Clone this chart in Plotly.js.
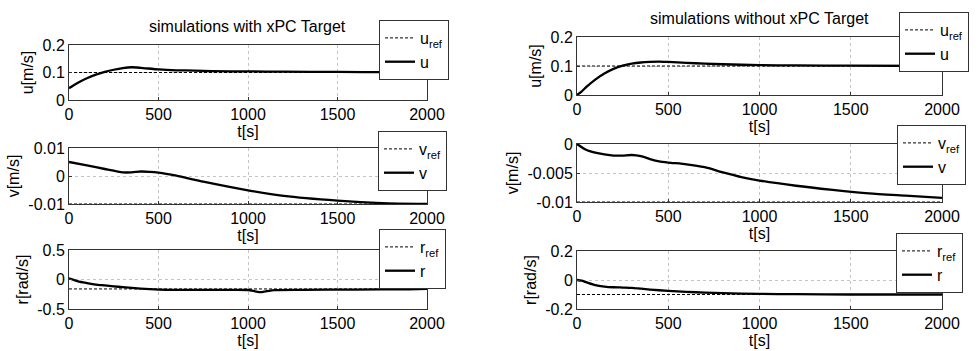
<!DOCTYPE html>
<html>
<head>
<meta charset="utf-8">
<script src="https://cdn.plot.ly/plotly-3.0.1.min.js"></script>
<style>html,body{margin:0;padding:0;background:#fff;}#chart{width:980px;height:351px;}</style>
</head>
<body>
<div id="chart"></div>
<script>
// ---------- data ----------
const titleLeft = "simulations with xPC Target";
const titleRight = "simulations without xPC Target";
const tRange = [0, 2000];

// left column (with xPC Target)
const tL_u = [0,50,100,150,200,250,300,350,400,500,600,700,800,1000,1200,1500,1800,2000];
const uL   = [0.043,0.063,0.079,0.092,0.102,0.110,0.116,0.119,0.117,0.111,0.108,0.107,0.105,0.104,0.103,0.102,0.101,0.101];
const uRefL = [0.1, 0.1];

const tL_v = [0,100,200,300,350,400,450,500,600,750,1000,1200,1500,1750,2000];
const vL   = [0.005,0.0038,0.0025,0.0013,0.0013,0.0016,0.0015,0.0012,0.0001,-0.002,-0.0051,-0.0071,-0.0088,-0.0097,-0.0100];
const vRefL = [-0.01, -0.01];

const tL_r = [0,50,100,150,200,250,300,400,500,700,900,1000,1040,1070,1100,1150,1300,1600,1900,2000];
const rL   = [0.02,-0.03,-0.06,-0.085,-0.10,-0.115,-0.13,-0.155,-0.17,-0.175,-0.175,-0.178,-0.2,-0.215,-0.2,-0.18,-0.175,-0.17,-0.165,-0.16];
const rRefL = [-0.16, -0.16];

// right column (without xPC Target)
const tR_u = [0,25,50,100,150,200,250,300,350,400,450,500,600,700,800,1000,1200,1500,2000];
const uR   = [0,0.012,0.027,0.053,0.074,0.090,0.101,0.108,0.112,0.114,0.115,0.114,0.111,0.108,0.106,0.103,0.102,0.101,0.100];
const uRefR = [0.1, 0.1];

const tR_v = [0,50,100,150,200,250,300,350,400,450,500,600,700,800,900,1000,1200,1400,1600,1800,2000];
const vR   = [0,-0.0010,-0.0015,-0.0018,-0.0020,-0.0020,-0.0019,-0.0021,-0.0026,-0.0030,-0.0032,-0.0035,-0.0040,-0.0049,-0.0057,-0.0063,-0.0072,-0.0079,-0.0085,-0.0089,-0.0093];
const vRefR = [-0.01, -0.01];

const tR_r = [0,25,50,100,150,200,250,300,350,400,500,600,700,800,1000,1200,1500,2000];
const rR   = [0,-0.005,-0.015,-0.035,-0.045,-0.050,-0.052,-0.054,-0.060,-0.066,-0.075,-0.082,-0.087,-0.091,-0.096,-0.098,-0.100,-0.100];
const rRefR = [-0.1, -0.1];

// tick labels
const xTicks = [0,500,1000,1500,2000];
const xTickText = ["0","500","1000","1500","2000"];
const uTicks = [0,0.1,0.2];         const uTickText = ["0","0.1","0.2"];
const vLTicks = [-0.01,0,0.01];     const vLTickText = ["-0.01","0","0.01"];
const vRTicks = [-0.01,-0.005,0];   const vRTickText = ["-0.01","-0.005","0"];
const rLTicks = [-0.5,0,0.5];       const rLTickText = ["-0.5","0","0.5"];
const rRTicks = [-0.2,0,0.2];       const rRTickText = ["-0.2","0","0.2"];

// ---------- build ----------
const FONT = "'Liberation Sans', Arial, Helvetica, sans-serif";
const traces = [];
function addPair(n, t, y, yref, sym, legendId){
  const ax = n === 1 ? "" : String(n);
  traces.push({x: tRange, y: yref, xaxis: "x"+ax, yaxis: "y"+ax, mode: "lines",
    name: sym + "<sub>ref</sub>", legend: legendId,
    line: {color: "#000", width: 1, dash: "3px,2px"}});
  traces.push({x: t, y: y, xaxis: "x"+ax, yaxis: "y"+ax, mode: "lines",
    name: sym, legend: legendId, line: {color: "#000", width: 2.3, shape: "spline", smoothing: 0.6}});
}
addPair(1, tL_u, uL, uRefL, "u", "legend");
addPair(2, tR_u, uR, uRefR, "u", "legend2");
addPair(3, tL_v, vL, vRefL, "v", "legend3");
addPair(4, tR_v, vR, vRefR, "v", "legend4");
addPair(5, tL_r, rL, rRefL, "r", "legend5");
addPair(6, tR_r, rR, rRefR, "r", "legend6");

const W = 980, H = 351;
function xd(a,b){ return [a/W, b/W]; }
function yd(top,bot){ return [(H-bot)/H, (H-top)/H]; }

function xAxis(dom, anchor){
  return {domain: dom, anchor: anchor, range: tRange, tickvals: xTicks, ticktext: xTickText,
    showline: true, mirror: true, linecolor: "#333", linewidth: 1,
    ticks: "inside", ticklen: 3, tickcolor: "#333",
    showgrid: true, gridcolor: "#c4c4c4", griddash: "dot", gridwidth: 1, zeroline: false,
    tickfont: {family: FONT, size: 16, color: "#000"},
    title: {text: "t[s]", font: {family: FONT, size: 16, color: "#000"}, standoff: 2}};
}
function yAxis(dom, anchor, range, tv, tt, label){
  return {domain: dom, anchor: anchor, range: range, tickvals: tv, ticktext: tt,
    showline: true, mirror: true, linecolor: "#333", linewidth: 1,
    ticks: "inside", ticklen: 3, tickcolor: "#333",
    showgrid: true, gridcolor: "#c4c4c4", griddash: "dot", gridwidth: 1, zeroline: false,
    tickfont: {family: FONT, size: 16, color: "#000"},
    title: {text: label, font: {family: FONT, size: 16, color: "#000"}, standoff: 4}};
}
function legendAt(x, y){
  return {x: x/W, y: (H-y)/H, xref: "paper", yref: "paper", xanchor: "left", yanchor: "top",
    bgcolor: "#fff", bordercolor: "#333", borderwidth: 1,
    font: {family: FONT, size: 16, color: "#000"}, tracegroupgap: 0, itemwidth: 30};
}

const LX = xd(69, 427), RX = xd(577, 942);
const layout = {
  width: W, height: H, margin: {l: 0, r: 0, t: 0, b: 0},
  paper_bgcolor: "#fff", plot_bgcolor: "#fff", showlegend: true,
  font: {family: FONT, color: "#000"},
  xaxis:  xAxis(LX, "y"),  yaxis:  yAxis(yd(45,100), "x",  [0,0.2], uTicks, uTickText, "u[m/s]"),
  xaxis2: xAxis(RX, "y2"), yaxis2: yAxis(yd(37,95), "x2", [0,0.2], uTicks, uTickText, "u[m/s]"),
  xaxis3: xAxis(LX, "y3"), yaxis3: yAxis(yd(148,204), "x3", [-0.01,0.01], vLTicks, vLTickText, "v[m/s]"),
  xaxis4: xAxis(RX, "y4"), yaxis4: yAxis(yd(144,202), "x4", [-0.01,0], vRTicks, vRTickText, "v[m/s]"),
  xaxis5: xAxis(LX, "y5"), yaxis5: yAxis(yd(250,309), "x5", [-0.5,0.5], rLTicks, rLTickText, "r[rad/s]"),
  xaxis6: xAxis(RX, "y6"), yaxis6: yAxis(yd(251,309), "x6", [-0.2,0.2], rRTicks, rRTickText, "r[rad/s]"),
  legend:  legendAt(379, 20),
  legend2: legendAt(899, 12),
  legend3: legendAt(378, 131),
  legend4: legendAt(897, 125),
  legend5: legendAt(379, 229),
  legend6: legendAt(896, 233),
  annotations: [
    {text: titleLeft, x: 248/W, y: (H-27)/H, xref: "paper", yref: "paper", showarrow: false,
     xanchor: "center", yanchor: "middle", font: {family: FONT, size: 16, color: "#000"}},
    {text: titleRight, x: 759/W, y: (H-19)/H, xref: "paper", yref: "paper", showarrow: false,
     xanchor: "center", yanchor: "middle", font: {family: FONT, size: 16, color: "#000"}}
  ]
};
Plotly.newPlot("chart", traces, layout, {staticPlot: true, displayModeBar: false});
</script>
</body>
</html>
